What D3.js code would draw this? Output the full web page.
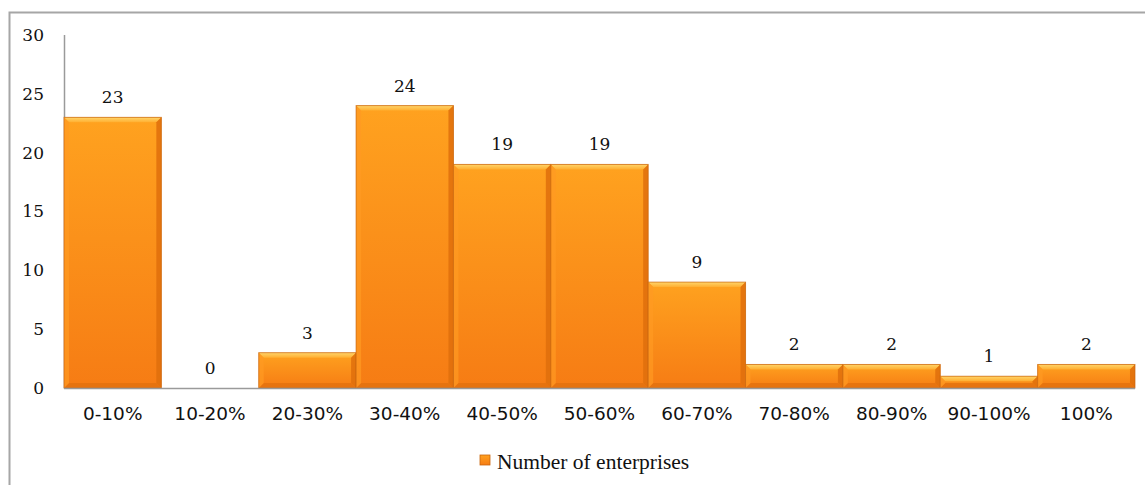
<!DOCTYPE html>
<html>
<head>
<meta charset="utf-8">
<script src="https://cdn.jsdelivr.net/npm/d3@7"></script>
<style>
  html, body { margin: 0; padding: 0; background: #fff; }
  svg { display: block; }
</style>
</head>
<body>
<svg id="chart" width="1145" height="485"></svg>
<script>
const categories = ["0-10%", "10-20%", "20-30%", "30-40%", "40-50%", "50-60%", "60-70%", "70-80%", "80-90%", "90-100%", "100%"];
const values = [23, 0, 3, 24, 19, 19, 9, 2, 2, 1, 2];
const yTicks = [0, 5, 10, 15, 20, 25, 30];
const seriesName = "Number of enterprises";

const svg = d3.select("#chart");
const numFont = "'DejaVu Serif', serif";
const catFont = "'DejaVu Sans', sans-serif";
const legFont = "'Liberation Serif', serif";

// outer frame
svg.append("rect").attr("x", 9.5).attr("y", 12.5).attr("width", 1150).attr("height", 500)
  .attr("fill", "none").attr("stroke", "#a6a6a6").attr("stroke-width", 2);

const x = d3.scaleBand().domain(categories).range([64, 1135]).padding(0);
const y = d3.scaleLinear().domain([0, 30]).range([388, 35]);

const defs = svg.append("defs");
const g1 = defs.append("linearGradient").attr("id", "barGrad").attr("x1", 0).attr("y1", 0).attr("x2", 0).attr("y2", 1);
g1.append("stop").attr("offset", "0%").attr("stop-color", "#FFA21F");
g1.append("stop").attr("offset", "100%").attr("stop-color", "#F67C14");
const g2 = defs.append("linearGradient").attr("id", "topGrad").attr("x1", 0).attr("y1", 0).attr("x2", 0).attr("y2", 1);
g2.append("stop").attr("offset", "0%").attr("stop-color", "#FFD56A");
g2.append("stop").attr("offset", "100%").attr("stop-color", "#FFAE30");

// y axis line
svg.append("line").attr("x1", 64.5).attr("x2", 64.5).attr("y1", y(30)).attr("y2", y(0))
  .attr("stroke", "#9a9a9a").attr("stroke-width", 1.5);

// y tick labels
svg.append("g").selectAll("text").data(yTicks).join("text")
  .attr("x", 44).attr("y", d => y(d)).attr("dy", "0.35em")
  .attr("text-anchor", "end").attr("font-family", numFont).attr("font-size", 17)
  .attr("fill", "#111").text(d => d);

// bars
const bars = svg.append("g").selectAll("g").data(categories.map((c, i) => ({c, v: values[i]})))
  .join("g").attr("transform", d => `translate(${x(d.c)},${y(d.v)})`);

bars.each(function(d) {
  const g = d3.select(this);
  const w = x.bandwidth();
  const h = y(0) - y(d.v);
  if (h <= 0) return;
  const b = Math.min(5, h / 2);
  g.append("rect").attr("width", w).attr("height", h).attr("fill", "url(#barGrad)");
  g.append("polygon").attr("points", `0,0 ${w},0 ${w-b},${b} ${b},${b}`).attr("fill", "url(#topGrad)");
  g.append("polygon").attr("points", `${w},0 ${w},${h} ${w-b},${h-b} ${w-b},${b}`).attr("fill", "#DF6F0C").attr("opacity", 0.85);
  g.append("polygon").attr("points", `0,${h} ${w},${h} ${w-b},${h-b} ${b},${h-b}`).attr("fill", "#E2700E").attr("opacity", 0.8);
  g.append("polygon").attr("points", `0,0 ${b},${b} ${b},${h-b} 0,${h}`).attr("fill", "#FF9A22").attr("opacity", 0.7);
  g.append("rect").attr("width", w).attr("height", h).attr("fill", "none")
    .attr("stroke", "#C9650E").attr("stroke-width", 1).attr("opacity", 0.7);
});

// x axis line
svg.append("line").attr("x1", 64).attr("x2", 1135).attr("y1", 388.5).attr("y2", 388.5)
  .attr("stroke", "#9a9a9a").attr("stroke-width", 1.5);

// value labels
svg.append("g").selectAll("text").data(categories.map((c, i) => ({c, v: values[i]}))).join("text")
  .attr("x", d => x(d.c) + x.bandwidth() / 2).attr("y", d => y(d.v) - 20).attr("dy", "0.35em")
  .attr("text-anchor", "middle").attr("font-family", numFont).attr("font-size", 17)
  .attr("fill", "#111").text(d => d.v);

// category labels
svg.append("g").selectAll("text").data(categories).join("text")
  .attr("x", d => x(d) + x.bandwidth() / 2).attr("y", 414).attr("dy", "0.35em")
  .attr("text-anchor", "middle").attr("font-family", catFont).attr("font-size", 18.5)
  .attr("fill", "#111").text(d => d);

// legend
const lg = svg.append("g").attr("transform", "translate(480,455)");
lg.append("rect").attr("width", 10).attr("height", 10).attr("fill", "url(#barGrad)")
  .attr("stroke", "#C9650E").attr("stroke-width", 0.8);
lg.append("text").attr("x", 17).attr("y", 6).attr("dy", "0.35em")
  .attr("font-family", legFont).attr("font-size", 21.5)
  .attr("fill", "#111").text(seriesName);
</script>
</body>
</html>
